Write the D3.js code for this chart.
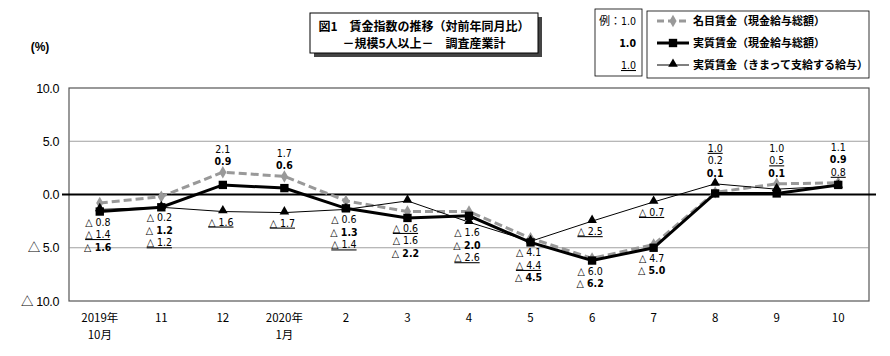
<!DOCTYPE html>
<html><head><meta charset="utf-8">
<script src="https://cdn.jsdelivr.net/npm/d3@7"></script>
<style>
body{margin:0;background:#fff;}
svg{display:block;}
</style></head>
<body>
<svg id="chart" width="890" height="356"></svg>
<script>
const categories = ["2019年|10月","11","12","2020年|1月","2","3","4","5","6","7","8","9","10"];
const nominal   = [-0.8,-0.2, 2.1, 1.7,-0.6,-1.6,-1.6,-4.1,-6.0,-4.7, 0.2, 1.0, 1.1];
const real      = [-1.6,-1.2, 0.9, 0.6,-1.3,-2.2,-2.0,-4.5,-6.2,-5.0, 0.1, 0.1, 0.9];
const scheduled = [-1.4,-1.2,-1.6,-1.7,-1.4,-0.6,-2.6,-4.4,-2.5,-0.7, 1.0, 0.5, 0.8];
const yTicks = [10,5,0,-5,-10];
const seriesNames = ["名目賃金（現金給与総額）","実質賃金（現金給与総額）","実質賃金（きまって支給する給与）"];
const titleLines = ["図1　賃金指数の推移（対前年同月比）","－規模5人以上－　調査産業計"];

const svg = d3.select("#chart");
const L = 69, R = 869, T = 88, B = 301;
const x = d3.scaleBand().domain(d3.range(categories.length)).range([L, R]);
const y = d3.scaleLinear().domain([-10, 10]).range([B, T]);
const cx = i => x(i) + x.bandwidth()/2;
const numFont = "'DejaVu Sans Condensed','Liberation Sans',sans-serif";
const jpFont = "'Noto Sans CJK JP',sans-serif";
const fmt = (v, dg) => v < 0 ? "△ " + Math.abs(v).toFixed(dg) : v.toFixed(dg);

// frame
svg.append("rect").attr("x", L).attr("y", T).attr("width", R-L).attr("height", B-T)
  .attr("fill","none").attr("stroke","#555").attr("stroke-width",1.2);

// grid
svg.append("g").selectAll("line").data(yTicks.filter(v => v !== 0 && Math.abs(v) !== 10)).join("line")
  .attr("x1", L).attr("x2", R).attr("y1", d => y(d)).attr("y2", d => y(d))
  .attr("stroke", "#888").attr("stroke-width", 0.8);

// y labels
yTicks.forEach(v => {
  const t = svg.append("text").attr("x", 59).attr("y", y(v) + 4.5).attr("text-anchor", "end")
    .attr("font-family", "'Liberation Sans',Arial,sans-serif").attr("font-size", 12.5)
    .attr("letter-spacing", -0.4).attr("fill", "#000");
  if (v < 0) {
    t.append("tspan").attr("font-family", jpFont).text("△");
    t.append("tspan").text(" " + Math.abs(v).toFixed(1));
  } else t.text(v.toFixed(1));
});

// zero line
svg.append("line").attr("x1", 62).attr("x2", 876).attr("y1", y(0)).attr("y2", y(0))
  .attr("stroke", "#000").attr("stroke-width", 2);

// x labels
categories.forEach((c, i) => {
  const parts = c.split("|");
  const t = svg.append("text").attr("x", cx(i)).attr("y", 322).attr("text-anchor", "middle")
    .attr("font-family", jpFont).attr("font-size", 11.5).attr("fill", "#000");
  parts.forEach((p, k) => t.append("tspan").attr("x", cx(i)).attr("dy", k === 0 ? 0 : 17).text(p));
});

// "(%)"
svg.append("text").attr("x", 40).attr("y", 51).attr("text-anchor", "middle")
  .attr("font-family", "'Liberation Sans',Arial,sans-serif").attr("font-size", 12).attr("font-weight", "bold").text("(%)");

const line = d3.line().x((d, i) => cx(i)).y(d => y(d));

svg.append("path").attr("d", line(nominal)).attr("fill", "none").attr("stroke", "#999")
  .attr("stroke-width", 3).attr("stroke-dasharray", "8,4");
svg.append("path").attr("d", line(scheduled)).attr("fill", "none").attr("stroke", "#000").attr("stroke-width", 1);
svg.append("path").attr("d", line(real)).attr("fill", "none").attr("stroke", "#000").attr("stroke-width", 3);

const diamond = d3.symbol().type(d3.symbolDiamond).size(45);
const square = d3.symbol().type(d3.symbolSquare).size(70);
const tri = d3.symbol().type(d3.symbolTriangle).size(40);

svg.append("g").selectAll("path").data(nominal).join("path")
  .attr("transform", (d, i) => `translate(${cx(i)},${y(d)})`).attr("d", diamond).attr("fill", "#999");
svg.append("g").selectAll("path").data(scheduled).join("path")
  .attr("transform", (d, i) => `translate(${cx(i)},${y(d)-1})`).attr("d", tri).attr("fill", "#000");
svg.append("g").selectAll("path").data(real).join("path")
  .attr("transform", (d, i) => `translate(${cx(i)},${y(d)})`).attr("d", square).attr("fill", "#000");

// data labels
const LS = 12.5;
function label(xp, yp, d) {
  const t = svg.append("text").attr("x", xp).attr("y", yp)
    .attr("font-family", numFont).attr("font-size", 10.5).attr("fill", "#000").attr("text-anchor", "middle")
    .text(fmt(d.v, 1));
  if (d.s === 1) t.attr("font-weight", "bold");
  if (d.s === 2) t.attr("text-decoration", "underline");
}
categories.forEach((c, i) => {
  const items = [nominal[i], real[i], scheduled[i]].map((v, s) => ({v, s}));
  const pos = items.filter(d => d.v >= 0).sort((a, b) => a.v - b.v);
  if (pos.length) {
    const top = y(d3.max(pos, d => d.v));
    pos.forEach((d, k) => label(cx(i), top - 7 - k * LS, d));
  }
  const neg = items.filter(d => d.v < 0).sort((a, b) => b.v - a.v);
  const clusters = [];
  neg.forEach(d => {
    const last = clusters[clusters.length - 1];
    if (last && last[last.length - 1].v - d.v <= 1.5) last.push(d); else clusters.push([d]);
  });
  clusters.forEach(cl => {
    const low = y(d3.min(cl, d => d.v));
    cl.forEach((d, k) => label(cx(i) - 2, low + 14 + k * LS, d));
  });
});

// title box
svg.append("rect").attr("x", 314).attr("y", 17).attr("width", 228).attr("height", 40).attr("fill", "#444");
svg.append("rect").attr("x", 310).attr("y", 13).attr("width", 228).attr("height", 40)
  .attr("fill", "#fff").attr("stroke", "#000").attr("stroke-width", 1);
titleLines.forEach((tl, k) => {
  svg.append("text").attr("x", 424).attr("y", 30.5 + k * 17.8).attr("text-anchor", "middle")
    .attr("font-family", jpFont).attr("font-weight", "bold").attr("font-size", 12).text(tl);
});

// example box
svg.append("rect").attr("x", 595).attr("y", 9).attr("width", 47).attr("height", 67)
  .attr("fill", "#fff").attr("stroke", "#000").attr("stroke-width", 0.8);
const ex1 = svg.append("text").attr("x", 636).attr("y", 25).attr("text-anchor", "end").attr("font-size", 11);
ex1.append("tspan").attr("font-family", jpFont).text("例：");
ex1.append("tspan").attr("font-family", numFont).attr("font-size", 10.5).text("1.0");
[1, 2].forEach(s => {
  const t = svg.append("text").attr("x", 636).attr("y", 25 + s * 22).attr("text-anchor", "end")
    .attr("font-family", numFont).attr("font-size", 10.5).text("1.0");
  if (s === 1) t.attr("font-weight", "bold");
  if (s === 2) t.attr("text-decoration", "underline");
});

// legend
svg.append("rect").attr("x", 647).attr("y", 11).attr("width", 222).attr("height", 67)
  .attr("fill", "#fff").attr("stroke", "#000").attr("stroke-width", 0.8);
const lx1 = 657, lx2 = 689;
const ly = [21, 43, 65];
svg.append("line").attr("x1", lx1).attr("x2", lx2).attr("y1", ly[0]).attr("y2", ly[0])
  .attr("stroke", "#999").attr("stroke-width", 3).attr("stroke-dasharray", "7,4");
svg.append("path").attr("transform", `translate(${(lx1+lx2)/2},${ly[0]})`).attr("d", diamond).attr("fill", "#999");
svg.append("line").attr("x1", lx1).attr("x2", lx2).attr("y1", ly[1]).attr("y2", ly[1])
  .attr("stroke", "#000").attr("stroke-width", 3);
svg.append("path").attr("transform", `translate(${(lx1+lx2)/2},${ly[1]})`).attr("d", square).attr("fill", "#000");
svg.append("line").attr("x1", lx1).attr("x2", lx2).attr("y1", ly[2]).attr("y2", ly[2])
  .attr("stroke", "#000").attr("stroke-width", 1);
svg.append("path").attr("transform", `translate(${(lx1+lx2)/2},${ly[2]-1})`).attr("d", tri).attr("fill", "#000");
seriesNames.forEach((n, k) => {
  svg.append("text").attr("x", 693).attr("y", ly[k] + 4).attr("font-family", jpFont)
    .attr("font-weight", "bold").attr("font-size", 11).text(n);
});
</script>
</body></html>
